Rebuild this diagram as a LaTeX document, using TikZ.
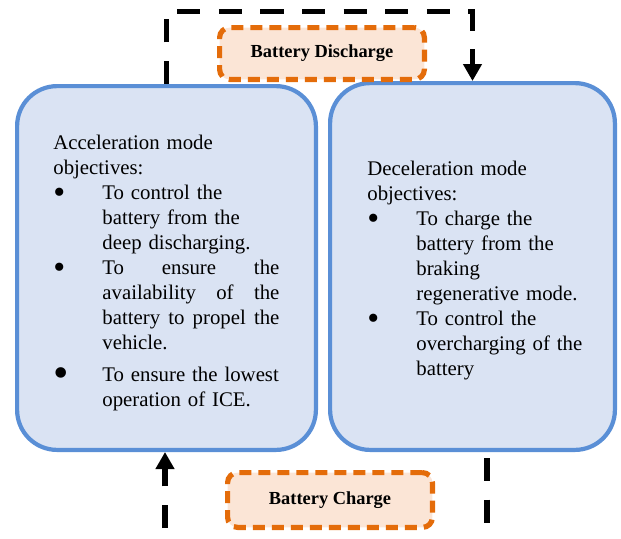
\documentclass[tikz,border=0pt]{standalone}
\usepackage{fontspec}
\setmainfont{Liberation Serif}
\usetikzlibrary{arrows.meta, positioning}

\definecolor{modeline}{HTML}{5A8FD6}
\definecolor{modefill}{HTML}{DAE3F3}
\definecolor{tagline}{HTML}{E46C0A}
\definecolor{tagfill}{HTML}{FBE5D6}

\newcommand*{\objdot}{\smash{\fontsize{17}{12}\selectfont\raisebox{-2pt}{\textbullet}}}
\newcommand*{\objbigdot}{\smash{\fontsize{22}{12}\selectfont\raisebox{-3pt}{\textbullet}}}
\newenvironment{objlist}{%
  \begin{list}{\objdot}{%
    \setlength{\leftmargin}{24.5pt}%
    \setlength{\labelwidth}{24.5pt}%
    \setlength{\labelsep}{0pt}%
    \setlength{\itemindent}{0pt}%
    \setlength{\itemsep}{0pt}%
    \setlength{\parsep}{0pt}%
    \setlength{\topsep}{0pt}%
    \setlength{\partopsep}{0pt}%
    \renewcommand{\makelabel}[1]{##1\hfill}}}%
  {\end{list}}

\begin{document}
\begin{tikzpicture}[
        x=0.5pt, y=-0.5pt,
        mode/.style={rectangle, rounded corners=20pt, draw=modeline, fill=modefill, line width=2.1pt},
        tag/.style={rectangle, rounded corners=5pt, draw=tagline, fill=tagfill, line width=2.6pt,
            dash pattern=on 6pt off 3.5pt, minimum width=102.4pt, font=\fontsize{9.2}{11}\selectfont\bfseries},
        objtext/.style={inner sep=0pt, text width=113pt, anchor=north west, font=\fontsize{10.4}{12.5}\selectfont},
        flow/.style={line width=2.8pt, dash pattern=on 11.6pt off 9.2pt},
        >={Triangle[length=8.5pt, width=9pt]}
    ]
    \useasboundingbox (0,0) rectangle (621,538);

    % Mode boxes
    \node[mode, minimum width=149.4pt, minimum height=181.9pt] (acc) at (166.5,268) {};
    \node[mode, minimum width=142.4pt, minimum height=183.4pt] (dec) at (472.5,266.5) {};

    % Objectives
    \node[objtext] (acctxt) at ([xshift=19pt, yshift=-25.5pt]acc.north west) {Acceleration mode\\
        objectives:
        \begin{objlist}
        \item To control the\\ battery from the\\ deep discharging.
        \item To\hfill ensure\hfill the\\ availability\hfill of\hfill the\\ battery\hfill to\hfill propel\hfill the\\ vehicle.\vspace{3.5pt}
        \item[\objbigdot] To ensure the lowest\\ operation of ICE.
        \end{objlist}};
    \node[objtext, text width=115pt] (dectxt) at ([xshift=19.5pt, yshift=-39.75pt]dec.north west) {Deceleration mode\\
        objectives:
        \begin{objlist}
        \item To charge the\\ battery from the\\ braking\\ regenerative mode.
        \item To control the\\ overcharging of the\\ battery
        \end{objlist}};

    % Battery flows
    \node[tag, minimum height=25.9pt] (dis) at (322,53.5) {Battery Discharge};
    \node[tag, minimum height=27.4pt] (chg) at (330,500) {Battery Charge};

    \coordinate (c1) at (165,528);
    \coordinate (c2) at (487,523);

    % Discharge loop over the top
    \draw[flow, ->] (acc.north) -- ++(0,-72.5) -| (dec.north);

    % Charge loop from below
    \draw[flow, ->] (c1) -- (c1 |- acc.south);
    \draw[flow, shorten <=3pt] (c2 |- dec.south) -- (c2);

\end{tikzpicture}
\end{document}
